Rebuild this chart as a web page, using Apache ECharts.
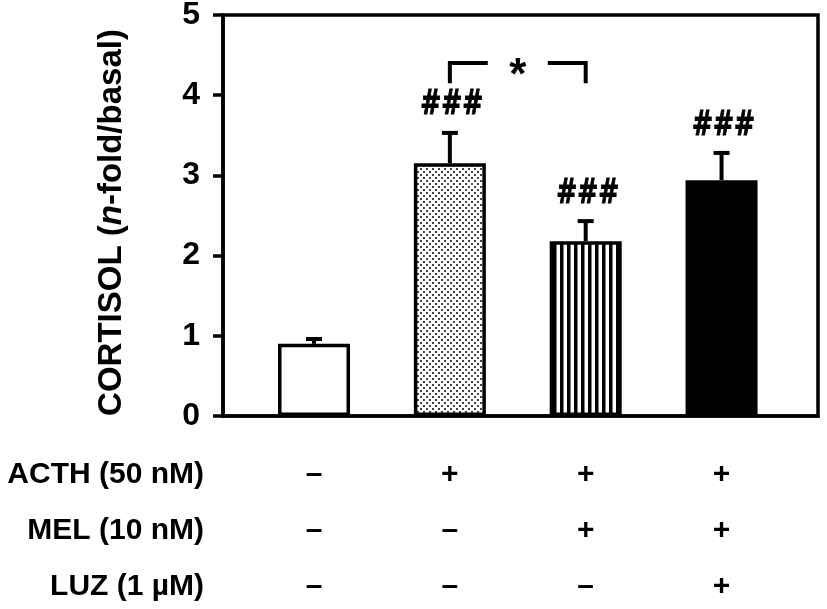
<!DOCTYPE html>
<html>
<head>
<meta charset="utf-8">
<script src="https://cdn.jsdelivr.net/npm/echarts@6/dist/echarts.min.js"></script>
<style>
  html, body { margin: 0; padding: 0; background: #fff; }
  #chart { width: 827px; height: 609px; }
</style>
</head>
<body>
<div id="chart"></div>
<script>
// data
var groups = ['basal', 'ACTH', 'ACTH+MEL', 'ACTH+MEL+LUZ'];
var groupPos = [1, 2, 3, 4];
var cortisol = [0.9, 3.15, 2.18, 2.94];
var sem = [0.06, 0.38, 0.25, 0.34];
var marks = ['', '###', '###', '###'];
var yTicks = [0, 1, 2, 3, 4, 5];
// significance bracket between group 2 and 3: [from, to, top, bottom]
var bracket = [2, 3, 4.4, 4.15];
var bracketMark = '*';
// treatment table under the axis
var rowLabels = ['ACTH (50 nM)', 'MEL (10 nM)', 'LUZ (1 µM)'];
var acth = ['–', '+', '+', '+'];
var mel = ['–', '–', '+', '+'];
var luz = ['–', '–', '–', '+'];
var yName = 'CORTISOL ({i|n}-fold/basal)';

var FONT = '"Liberation Sans", Arial, sans-serif';
var HASH_FONT = '"DejaVu Sans", sans-serif';
var GRID_TOP = 15, GRID_BOTTOM_Y = 416;
var ROW_GAP = 56, TABLE_MARGIN = 31, LABEL_OFFSET = 59;

function makeDots() {
  var c = document.createElement('canvas');
  c.width = 6; c.height = 6;
  var ctx = c.getContext('2d');
  ctx.fillStyle = '#fff';
  ctx.fillRect(0, 0, 6, 6);
  ctx.fillStyle = '#444';
  ctx.fillRect(0, 0, 2, 2);
  ctx.fillRect(3, 3, 2, 2);
  return c;
}
function makeStripes() {
  var c = document.createElement('canvas');
  c.width = 7; c.height = 4;
  var ctx = c.getContext('2d');
  ctx.fillStyle = '#fff';
  ctx.fillRect(0, 0, 7, 4);
  ctx.fillStyle = '#000';
  ctx.fillRect(0, 0, 3.5, 4);
  return c;
}

var fills = ['#fff', {image: makeDots(), repeat: 'repeat'}, {image: makeStripes(), repeat: 'repeat'}, '#000'];

var barData = groupPos.map(function (x, i) {
  return {value: [x, cortisol[i]], itemStyle: {color: fills[i]}};
});
var errData = groupPos.map(function (x, i) {
  return [x, cortisol[i], cortisol[i] + sem[i], i];
});

var chart = echarts.init(document.getElementById('chart'));
chart.setOption({
  animation: false,
  backgroundColor: '#fff',
  grid: {
    left: 223, right: 9, top: GRID_TOP, bottom: 609 - GRID_BOTTOM_Y,
    outerBoundsMode: 'none', containLabel: false,
    show: true, borderColor: '#000', borderWidth: 3.5, backgroundColor: 'transparent'
  },
  xAxis: {
    type: 'value',
    min: 0.33, max: 4.71,
    splitLine: {show: false},
    axisLine: {show: true, lineStyle: {color: '#000', width: 3.5}},
    axisTick: {show: false},
    axisLabel: {
      customValues: groupPos,
      margin: TABLE_MARGIN,
      color: '#000',
      fontFamily: FONT,
      fontWeight: 'bold',
      fontSize: 30,
      lineHeight: ROW_GAP,
      formatter: function (v) {
        var i = groupPos.indexOf(v);
        if (i < 0) return '';
        return [acth[i], mel[i], luz[i]].join('\n');
      }
    }
  },
  yAxis: {
    type: 'value',
    min: 0, max: 5, interval: 1,
    name: yName,
    nameLocation: 'middle',
    nameGap: 95,
    nameTextStyle: {
      color: '#000', fontFamily: FONT, fontWeight: 'bold', fontSize: 33,
      padding: [0, 14, 0, 0],
      rich: {i: {fontStyle: 'italic', fontWeight: 'bold', fontFamily: FONT, fontSize: 33, color: '#000'}}
    },
    splitLine: {show: false},
    axisLine: {show: true, lineStyle: {color: '#000', width: 3.5}},
    axisTick: {show: true, length: 10, lineStyle: {color: '#000', width: 3.5}},
    axisLabel: {
      color: '#000', margin: 23,
      fontFamily: FONT, fontWeight: 'bold', fontSize: 32,
      formatter: function (v) { return yTicks.indexOf(v) >= 0 ? String(v) : ''; }
    }
  },
  graphic: rowLabels.map(function (t, r) {
    return {
      type: 'text',
      x: 204,
      y: GRID_BOTTOM_Y + LABEL_OFFSET + r * ROW_GAP,
      style: {
        text: t, align: 'right', verticalAlign: 'middle',
        fontFamily: FONT, fontWeight: 'bold', fontSize: 30, fill: '#000'
      }
    };
  }),
  series: [
    {
      type: 'bar',
      data: barData,
      barWidth: 72,
      itemStyle: {borderColor: '#000', borderWidth: 3.5}
    },
    {
      type: 'custom',
      data: errData,
      clip: false,
      renderItem: function (params, api) {
        var base = api.coord([api.value(0), api.value(1)]);
        var top = api.coord([api.value(0), api.value(2)]);
        var i = api.value(3);
        var children = [
          {type: 'line', shape: {x1: base[0], y1: base[1], x2: top[0], y2: top[1]},
           style: {stroke: '#000', lineWidth: 4, fill: null}},
          {type: 'line', shape: {x1: top[0] - 8, y1: top[1], x2: top[0] + 8, y2: top[1]},
           style: {stroke: '#000', lineWidth: 4, fill: null}}
        ];
        if (marks[i]) {
          children.push({
            type: 'text', x: top[0] + 2, y: top[1] - 27, scaleX: 0.76,
            style: {text: marks[i], align: 'center', verticalAlign: 'middle',
                    fontFamily: HASH_FONT, fontWeight: 'bold', fontSize: 33, fill: '#000',
                    stroke: '#000', lineWidth: 1}
          });
        }
        return {type: 'group', children: children};
      }
    },
    {
      type: 'custom',
      data: [bracket],
      clip: false,
      renderItem: function (params, api) {
        var a = api.coord([api.value(0), api.value(2)]);
        var b = api.coord([api.value(1), api.value(2)]);
        var low = api.coord([api.value(0), api.value(3)]);
        var mid = (a[0] + b[0]) / 2;
        var gap = 30;
        var st = {stroke: '#000', lineWidth: 4, fill: null};
        return {type: 'group', children: [
          {type: 'polyline', shape: {points: [[a[0], low[1]], [a[0], a[1]], [mid - gap, a[1]]]}, style: st},
          {type: 'polyline', shape: {points: [[mid + gap, b[1]], [b[0], b[1]], [b[0], low[1]]]}, style: st},
          {type: 'text', x: mid, y: a[1] + 14,
           style: {text: bracketMark, align: 'center', verticalAlign: 'middle',
                   fontFamily: FONT, fontWeight: 'bold', fontSize: 44, fill: '#000'}}
        ]};
      }
    }
  ]
});
</script>
</body>
</html>
